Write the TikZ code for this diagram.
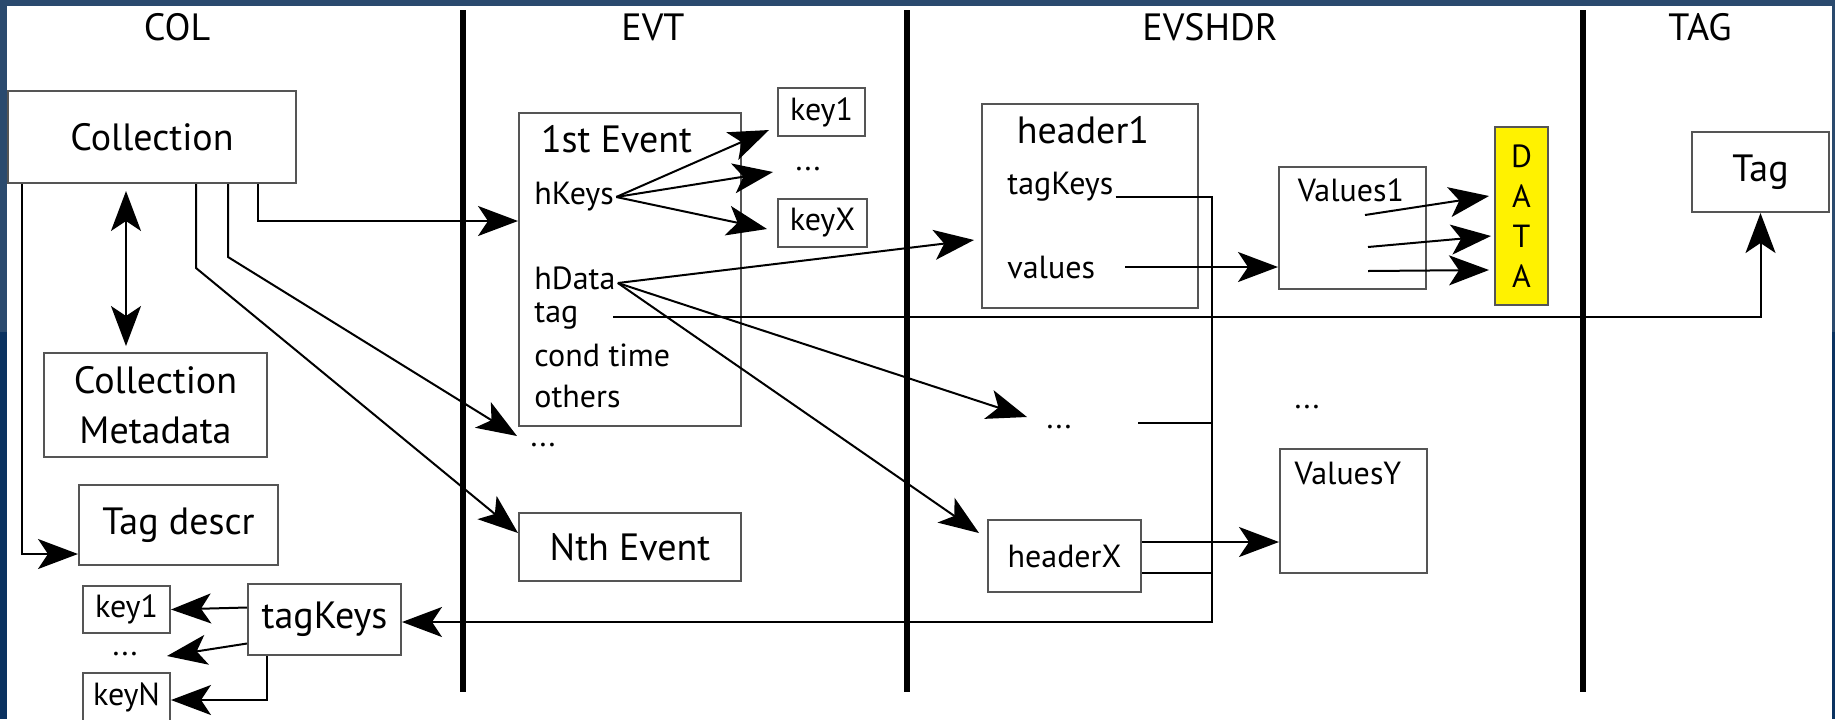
\documentclass[tikz,border=0pt]{standalone}
\usepackage{fontspec}
\setmainfont{PT Sans}
\usetikzlibrary{arrows.meta}
\definecolor{slidetop}{RGB}{42,74,110}
\definecolor{slidelow}{RGB}{10,50,96}
\definecolor{boxgray}{RGB}{85,85,85}

\begin{document}
\begin{tikzpicture}[x=0.5pt,y=-0.5pt,
  >={Stealth[length=20pt,width=15pt,inset=5pt]},
  box/.style={draw=boxgray, line width=1pt, inner sep=0pt, font=\fontsize{19}{21}\selectfont},
  small/.style={font=\fontsize{16}{18}\selectfont},
  field/.style={inner sep=1pt, font=\fontsize{16}{18}\selectfont},
  lanetitle/.style={font=\fontsize{19}{21}\selectfont},
  lane/.style={line width=2.6pt},
  wire/.style={line width=1pt},
  conn/.style={wire,->}]
\useasboundingbox (0,0) rectangle (1835,719);
% slide background
\fill[slidetop] (0,0) rectangle (1835,332);
\fill[slidelow] (0,332) rectangle (1835,719);
\fill[white] (7,6) rectangle (1832,719);
% lanes
\foreach \lx in {463,907,1583} \draw[lane] (\lx,10) -- (\lx,692);
\node[lanetitle] (tcol) at (177,27) {COL};
\node[lanetitle] (tevt) at (653,27) {EVT};
\node[lanetitle] (tevs) at (1210,27) {EVSHDR};
\node[lanetitle] (ttag) at (1700,27) {TAG};
% COL
\node[box, minimum width=144pt, minimum height=46pt] (coll) at (152,137) {Collection};
\node[box, minimum width=111.5pt, minimum height=52pt, align=center, font=\fontsize{19}{25}\selectfont] (meta) at (155.5,405) {Collection\\Metadata};
\node[box, minimum width=99.5pt, minimum height=40pt] (tagdescr) at (178.5,525) {Tag descr};
\node[box, small, minimum width=43.5pt, minimum height=23.5pt] (ckey1) at (126.5,609.5) {key1};
\node[field, anchor=base] (cdots) at (125,655) {...};
\node[box, small, minimum width=43.5pt, minimum height=24pt] (ckeyN) at (126.5,697) {keyN};
\node[box, minimum width=76.5pt, minimum height=35.5pt] (ctagkeys) at (324.5,619.5) {tagKeys};
% EVT
\node[box, minimum width=111pt, minimum height=156.5pt] (ev1) at (630,269.5) {};
\node[font=\fontsize{19}{21}\selectfont, inner sep=0pt] (ev1title) at (616.5,139) {1st Event};
\node[field, anchor=west] (fhkeys) at (532,197) {hKeys};
\node[field, anchor=west] (fhdata) at (532,278) {hData};
\node[field, anchor=west] (ftag) at (532,316) {tag};
\node[field, anchor=west] (fcond) at (532,355) {cond time};
\node[field, anchor=west] (fothers) at (532,396) {others};
\node[box, small, minimum width=43.5pt, minimum height=24pt] (ekey1) at (821.5,112) {key1};
\node[field, anchor=base] (kdots) at (808,170) {...};
\node[box, small, minimum width=44.5pt, minimum height=24pt] (ekeyX) at (822.5,223) {keyX};
\node[field, anchor=base] (edots) at (543,446) {...};
\node[box, minimum width=111pt, minimum height=34pt] (evN) at (630,547) {Nth Event};
% EVSHDR
\node[box, minimum width=108pt, minimum height=102pt] (hdr1) at (1090,206) {};
\node[font=\fontsize{19}{21}\selectfont, inner sep=0pt] (hdr1title) at (1083,130) {header1};
\node[field, anchor=west] (fhtagkeys) at (1005,187) {tagKeys};
\node[field, anchor=west] (fhvalues) at (1005,267) {values};
\node[field, anchor=base] (sdots) at (1059,428) {...};
\node[box, small, minimum width=76.5pt, minimum height=36pt] (hdrX) at (1064.5,556) {headerX};
\node[box, minimum width=73.5pt, minimum height=61pt] (val1) at (1352.5,228) {};
\node[field] (val1title) at (1351,190) {Values1};
\node[field, anchor=base] (vdots) at (1307,408) {...};
\node[box, minimum width=73.5pt, minimum height=62pt] (valY) at (1353.5,511) {};
\node[field] (valYtitle) at (1348,473) {ValuesY};
\node[box, fill=yellow, minimum width=26.5pt, minimum height=89pt, align=center, font=\fontsize{16}{20}\selectfont] (data) at (1521.5,216) {D\\A\\T\\A};
% TAG
\node[box, minimum width=68.5pt, minimum height=40pt] (tagbox) at (1760.5,172) {Tag};
% collection links
\draw[conn] ([xshift=7.5pt]coll.south west) |- ([yshift=-14.5pt]tagdescr.west);
\coordinate (dtop) at ([xshift=-13pt]coll.south);
\draw[wire,<->,shorten <=3.5pt,shorten >=3pt] (dtop) -- (dtop |- meta.north);
\draw[conn] ([xshift=22pt]coll.south) -- ++(0,84) -- ([yshift=7pt]evN.west);
\draw[conn] ([xshift=38pt]coll.south) -- ++(0,73) -- ([xshift=-13pt,yshift=5pt]edots.base);
\draw[conn] ([xshift=53pt]coll.south) |- ([yshift=24.25pt]ev1.west);
% tag keys of the collection
\draw[conn] ([yshift=6pt]ctagkeys.west) -- (ckey1.east);
\draw[conn] ([yshift=-12pt]ctagkeys.west) -- ([xshift=21pt,yshift=-0.5pt]cdots.base);
\draw[conn] ([xshift=-28.75pt]ctagkeys.south) |- ([yshift=-1.5pt]ckeyN.east);
% event keys
\draw[conn] (fhkeys.east) -- ([xshift=-4pt,yshift=-9pt]ekey1.west);
\draw[conn] (fhkeys.east) -- ([xshift=-17.5pt,yshift=-1pt]kdots.base);
\draw[conn] (fhkeys.east) -- ([xshift=-5pt,yshift=-3pt]ekeyX.west);
% event data to headers
\draw[conn] ([yshift=-2.5pt]fhdata.east) -- ([xshift=-3.5pt,yshift=-17pt]hdr1.west);
\draw[conn] ([yshift=-2.5pt]fhdata.east) -- ([xshift=-16pt,yshift=5.5pt]sdots.base);
\draw[conn] ([yshift=-2.5pt]fhdata.east) -- ([xshift=-4pt,yshift=11.5pt]hdrX.west);
% event tag
\coordinate (tstart) at (613,317);
\draw[conn] (tstart) -| (tagbox.south);
% header values
\coordinate (vstart) at (1125,267);
\draw[conn] (vstart) -- (vstart -| val1.west);
\coordinate (hxa) at ([yshift=7pt]hdrX.east);
\draw[conn] (hxa) -- (hxa -| valY.west);
\coordinate (v1a) at (1365,215);
\coordinate (v1b) at (1368,247);
\coordinate (v1c) at (1368,271);
\draw[conn] (v1a) -- ([xshift=-2.5pt,yshift=10pt]data.west);
\draw[conn] (v1b) -- ([xshift=-1.5pt,yshift=-10pt]data.west);
\draw[conn] (v1c) -- ([xshift=-2.5pt,yshift=-27pt]data.west);
% header tag keys back to the collection
\coordinate (busbot) at (1212,622);
\draw[conn] ([yshift=-5pt]fhtagkeys.east) -| (busbot) -- (busbot -| ctagkeys.east);
\coordinate (sdl) at (1138,423);
\draw[wire] (sdl) -- (sdl -| busbot);
\coordinate (hxb) at ([yshift=-8.5pt]hdrX.east);
\draw[wire] (hxb) -- (hxb -| busbot);
\end{tikzpicture}
\end{document}
